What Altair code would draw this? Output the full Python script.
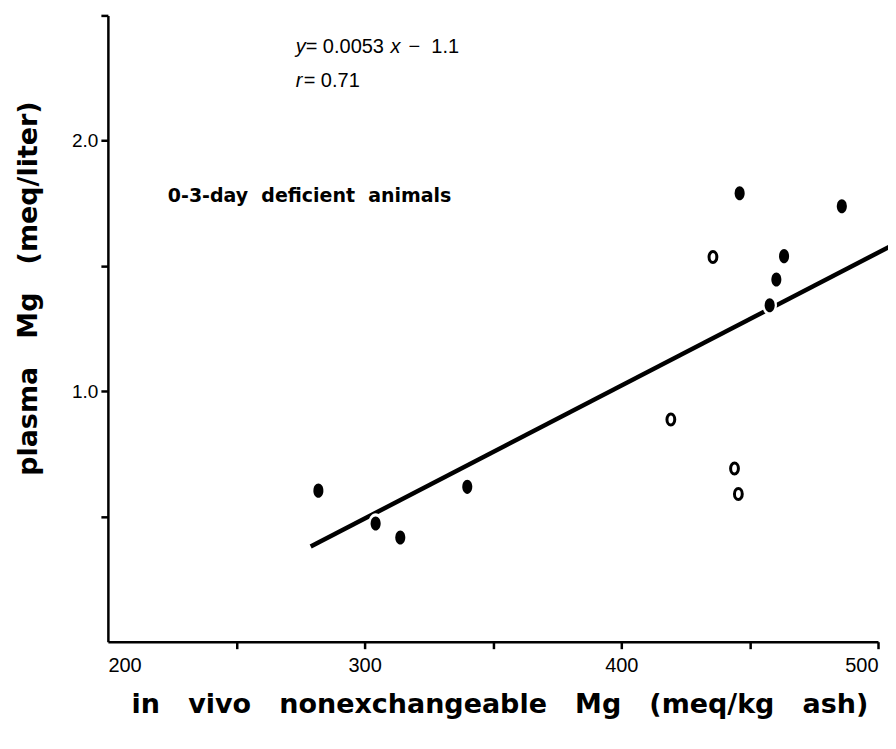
import altair as alt
import pandas as pd

# --- data ---
filled_x = [282.0, 304.3, 313.9, 340.0, 446.1, 485.9, 463.4, 460.4, 457.8]
filled_y = [0.603, 0.472, 0.416, 0.618, 1.790, 1.738, 1.539, 1.446, 1.343]
open_x = [435.7, 419.3, 444.1, 445.6]
open_y = [1.536, 0.887, 0.691, 0.590]
fit_x = [279, 507]
fit_y = [0.38, 1.59]
x_ticks = [200, 250, 300, 350, 400, 450, 500]
y_ticks = [0.5, 1.0, 1.5, 2.0, 2.5]

NB = "\u00a0\u00a0\u00a0"
x_title = NB.join(["in", "vivo", "nonexchangeable", "Mg", "(meq/kg", "ash)"])
y_title = NB.join(["plasma", "Mg", "(meq/liter)"])

filled = pd.DataFrame({"x": filled_x, "y": filled_y})
openp = pd.DataFrame({"x": open_x, "y": open_y})
fit = pd.DataFrame({"x": fit_x, "y": fit_y})
allp = pd.concat([filled, openp])

ELLIPSE = ("M0,-1C0.392,-1 0.71,-0.552 0.71,0C0.71,0.552 0.392,1 0,1"
           "C-0.392,1 -0.71,0.552 -0.71,0C-0.71,-0.552 -0.392,-1 0,-1Z")

x_enc = alt.X("x:Q", scale=alt.Scale(domain=[200, 500], nice=False, zero=False),
              axis=alt.Axis(values=x_ticks,
                            labelExpr="datum.value % 100 == 0 ? format(datum.value, 'd') : ''",
                            tickSize=7, tickWidth=2.5, domainWidth=2.5,
                            domainColor="black", tickColor="black",
                            tickOpacity={"condition": {"test": "datum.value === 200", "value": 0}, "value": 1},
                            labelFont="Liberation Sans", labelFontSize=20, labelColor="black",
                            labelPadding=7, grid=False,
                            title=x_title, titleFont="DejaVu Sans", titleFontWeight="bold",
                            titleFontSize=27, titleColor="black",
                            titleX=392, titleY=63, titleAlign="center", titleBaseline="middle"))
y_enc = alt.Y("y:Q", scale=alt.Scale(domain=[0, 2.5], nice=False, zero=False),
              axis=alt.Axis(values=y_ticks,
                            labelExpr="(datum.value == 1 || datum.value == 2) ? format(datum.value, '.1f') : ''",
                            tickSize=7, tickWidth=2.5, domainWidth=2.5,
                            domainColor="black", tickColor="black",
                            labelFont="Liberation Sans", labelFontSize=19, labelColor="black",
                            labelPadding=3, grid=False,
                            title=y_title, titleFont="DejaVu Sans", titleFontWeight="bold",
                            titleFontSize=27, titleColor="black", titleAngle=-90,
                            titleX=-79, titleY=273, titleAlign="center", titleBaseline="middle"))

line = alt.Chart(fit).mark_line(color="black", strokeWidth=4.5, clip=False).encode(x=x_enc, y=y_enc)
halo = alt.Chart(allp).mark_point(shape=ELLIPSE, size=420, filled=True, fill="white",
                                  opacity=1, strokeWidth=0).encode(x=x_enc, y=y_enc)
dots = alt.Chart(filled).mark_point(shape=ELLIPSE, size=200, filled=True, fill="black",
                                    opacity=1, strokeWidth=0).encode(x=x_enc, y=y_enc)
opens = alt.Chart(openp).mark_point(shape=ELLIPSE, size=121, filled=False, fill="white",
                                    fillOpacity=1, stroke="black", strokeWidth=3,
                                    opacity=1).encode(x=x_enc, y=y_enc)

one = alt.Data(values=[{"a": 1}])

def txt(s, px, py, size=20, font="Liberation Sans", style="normal", weight="normal"):
    return alt.Chart(one).mark_text(text=s, align="left", baseline="middle", font=font,
                                    fontSize=size, fontStyle=style, fontWeight=weight,
                                    color="black").encode(x=alt.value(px - 108), y=alt.value(py - 15))

ann = [
    txt("y", 296, 47, style="italic"),
    txt("= 0.0053", 306, 47),
    txt("x", 391, 47, style="italic"),
    txt("\u2212\u00a0\u00a01.1", 409, 47),
    txt("r", 296, 81, style="italic"),
    txt("= 0.71", 304, 81),
    txt("0-3-day\u00a0\u00a0deficient\u00a0\u00a0animals", 168, 196, size=19,
        font="DejaVu Sans", weight="bold"),
]

chart = alt.layer(line, halo, dots, opens, *ann).properties(
    width=771, height=627,
    autosize=alt.AutoSizeParams(type="none"),
    padding={"left": 100, "top": 7, "right": 10, "bottom": 90},
).configure_view(stroke=None)

chart.save("out.html", embed_options={"renderer": "svg", "actions": False})
